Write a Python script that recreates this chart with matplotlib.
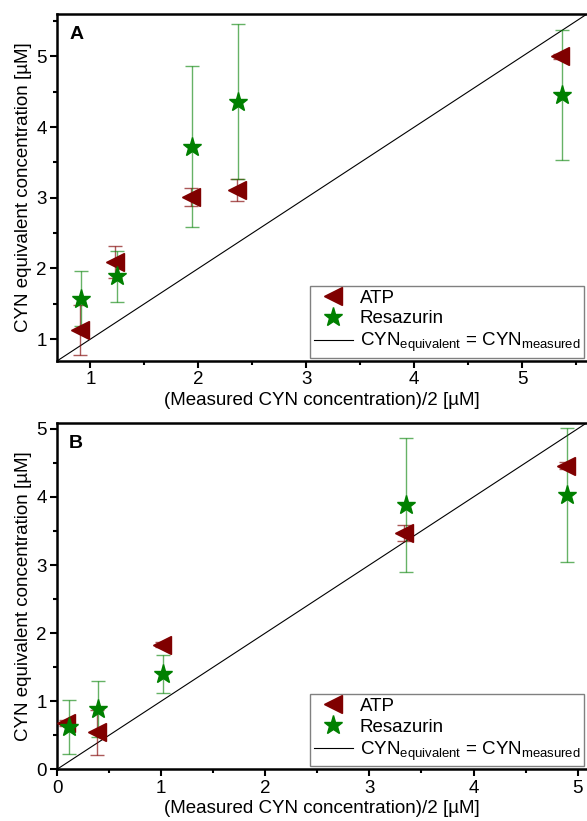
import matplotlib
matplotlib.use("Agg")
import matplotlib.pyplot as plt
from matplotlib.ticker import MultipleLocator

plt.rcParams['font.family'] = ['Liberation Sans', 'DejaVu Sans']
plt.rcParams['mathtext.fontset'] = 'custom'
plt.rcParams['mathtext.rm'] = 'Liberation Sans'
plt.rcParams['mathtext.it'] = 'Liberation Sans:italic'
plt.rcParams['mathtext.bf'] = 'Liberation Sans:bold'

# Panel A data
a_atp_x = [0.90, 1.23, 1.93, 2.36, 5.35]
a_atp_y = [1.13, 2.09, 3.01, 3.11, 5.00]
a_atp_err = [0.35, 0.23, 0.13, 0.16, 0.03]
a_res_x = [0.91, 1.25, 1.94, 2.37, 5.37]
a_res_y = [1.57, 1.89, 3.72, 4.36, 4.46]
a_res_err = [0.39, 0.36, 1.14, 1.10, 0.92]

# Panel B data
b_atp_x = [0.09, 0.38, 1.01, 3.33, 4.89]
b_atp_y = [0.68, 0.545, 1.83, 3.475, 4.46]
b_atp_err = [0.05, 0.33, 0.04, 0.12, 0.05]
b_res_x = [0.115, 0.395, 1.02, 3.35, 4.90]
b_res_y = [0.62, 0.88, 1.40, 3.88, 4.03]
b_res_err = [0.40, 0.41, 0.28, 0.98, 0.98]

a_lim = (0.69, 5.6)
b_lim = (0.0, 5.09)

atp_color = '#800000'
res_color = '#008000'
FS = 13.5

fig = plt.figure(figsize=(5.87, 8.21), dpi=100)
axA = fig.add_axes([57/587, 1-361/821, 1-57/587, (361-14)/821])
axB = fig.add_axes([57/587, 1-769.3/821, 1-57/587, (769.3-422.7)/821])

def draw(ax, ax_x, ay, ae, rx, ry, re, lim, major_ticks, letter):
    ax.errorbar(ax_x, ay, yerr=ae, fmt='none', ecolor=atp_color, alpha=0.65,
                elinewidth=1.0, capsize=5, capthick=1.0, zorder=2)
    ax.errorbar(rx, ry, yerr=re, fmt='none', ecolor=res_color, alpha=0.6,
                elinewidth=1.0, capsize=5, capthick=1.0, zorder=2)
    ax.plot(ax_x, ay, linestyle='none', marker='<', markersize=12.5,
            color=atp_color, label='ATP', zorder=3)
    ax.plot(rx, ry, linestyle='none', marker='*', markersize=14,
            color=res_color, label='Resazurin', zorder=4)
    ax.plot(lim, lim, color='black', linewidth=0.8,
            label=r'CYN$_{\mathrm{equivalent}}$ = CYN$_{\mathrm{measured}}$', zorder=1)
    ax.set_xlim(lim)
    ax.set_ylim(lim)
    ax.set_xticks(major_ticks)
    ax.set_yticks(major_ticks)
    ax.xaxis.set_minor_locator(MultipleLocator(0.5))
    ax.yaxis.set_minor_locator(MultipleLocator(0.5))
    ax.tick_params(which='major', direction='out', length=5, width=1.5, labelsize=FS, pad=2.5)
    ax.tick_params(which='minor', direction='out', length=3, width=1.5)
    for s in ['left', 'bottom', 'top']:
        ax.spines[s].set_linewidth(1.8)
    ax.spines['right'].set_visible(False)
    ax.set_xlabel('(Measured CYN concentration)/2 [µM]', fontsize=FS, labelpad=2.5)
    ax.set_ylabel('CYN equivalent concentration [µM]', fontsize=FS, labelpad=3)
    ax.text(0.023, 0.965, letter, transform=ax.transAxes, fontsize=14, fontweight='bold',
            va='top', ha='left')
    leg = ax.legend(loc='lower right', fontsize=FS, frameon=True, fancybox=False,
                    framealpha=1, edgecolor='#808080', borderaxespad=0.15,
                    handlelength=2.1, handletextpad=0.35, labelspacing=0.2,
                    borderpad=0.2)
    leg.get_frame().set_linewidth(1.0)

draw(axA, a_atp_x, a_atp_y, a_atp_err, a_res_x, a_res_y, a_res_err, a_lim,
     [1, 2, 3, 4, 5], 'A')
draw(axB, b_atp_x, b_atp_y, b_atp_err, b_res_x, b_res_y, b_res_err, b_lim,
     [0, 1, 2, 3, 4, 5], 'B')

fig.savefig('out.png', dpi=100)
